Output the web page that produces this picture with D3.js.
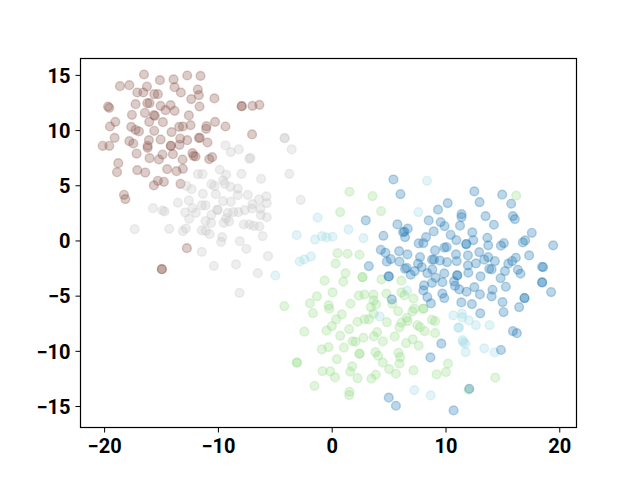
<!DOCTYPE html>
<html><head><meta charset="utf-8">
<script src="https://cdn.jsdelivr.net/npm/d3@7"></script>
<style>html,body{margin:0;padding:0;background:#fff}svg{display:block}</style>
</head><body><div id="chart"></div>
<script>
const xTicks=[-20,-10,0,10,20];
const yTicks=[-15,-10,-5,0,5,10,15];
const brown=[[-16.54,15.08],[-18.65,14.02],[-17.83,14.11],[-15.14,14.57],[-13.94,14.63],[-12.74,14.99],[-11.57,14.96],[-16.28,13.99],[-13.85,13.93],[-17.13,13.45],[-16.6,13.45],[-15.64,13.3],[-15.32,13.3],[-13.3,13.45],[-11.81,13.72],[-11.72,13.21],[-12.39,12.85],[-10.35,12.91],[-17.28,12.39],[-16.25,12.48],[-16.05,12.48],[-15.08,12.24],[-14.2,12.3],[-14.64,11.85],[-13.85,11.79],[-11.66,12.18],[-19.7,12.18],[-19.59,12.06],[-7.95,12.21],[-7.95,12.21],[-7.01,12.24],[-6.4,12.33],[-17.6,11.43],[-16.46,11.61],[-15.67,11.4],[-15.58,11.34],[-12.6,11.37],[-16.08,10.79],[-14.88,10.76],[-19.06,10.79],[-19.53,10.37],[-17.66,10.34],[-17.28,10.07],[-16.98,9.92],[-15.64,9.98],[-14.12,9.86],[-13.45,10.34],[-13.12,10.37],[-12.45,10.49],[-11.05,10.4],[-11.08,10.16],[-10.29,10.79],[-9.38,10.37],[-7.04,9.65],[-19.12,9.34],[-20.17,8.62],[-19.59,8.62],[-17.83,9.04],[-17.48,8.83],[-16.11,9.13],[-16.22,8.62],[-16.22,8.44],[-15.08,9.19],[-14.18,8.62],[-14.18,8.62],[-13.36,9.28],[-13.42,8.71],[-12.74,9.13],[-11.72,9.34],[-11.63,9.34],[-10.96,8.92],[-17.19,7.92],[-16.05,7.5],[-14.91,7.83],[-15.23,7.38],[-14.0,7.86],[-12.28,7.96],[-12.19,7.71],[-12.01,7.65],[-13.15,7.38],[-10.55,7.59],[-10.81,7.41],[-18.8,7.05],[-18.91,6.23],[-17.13,6.42],[-16.43,6.2],[-14.5,6.5],[-13.68,6.32],[-13.12,6.54],[-15.32,5.45],[-14.79,5.36],[-15.67,5.03],[-13.33,5.18],[-18.3,4.18],[-18.18,3.79],[-12.77,-0.65],[-14.97,-2.56],[-14.97,-2.56]];
const gray=[[-4.18,9.31],[-4.18,9.31],[-3.56,8.29],[-9.38,8.65],[-8.91,8.05],[-8.21,8.29],[-7.28,7.44],[-7.19,7.53],[-9.88,6.45],[-9.32,6.0],[-7.98,6.08],[-6.25,5.63],[-3.77,6.08],[-11.81,6.05],[-11.4,6.05],[-12.8,4.99],[-12.36,4.69],[-10.61,5.15],[-10.35,4.99],[-9.59,5.48],[-9.44,5.18],[-8.94,4.9],[-8.3,4.75],[-8.3,4.15],[-11.37,4.27],[-10.23,4.24],[-7.42,4.18],[-5.78,4.03],[-6.43,3.76],[-5.75,3.43],[-7.01,3.34],[-9.59,3.61],[-8.91,3.55],[-12.6,3.67],[-13.56,3.46],[-2.77,3.73],[-15.75,2.97],[-14.91,2.76],[-14.73,2.67],[-12.28,2.97],[-11.46,3.22],[-11.13,3.22],[-12.92,2.58],[-11.98,2.55],[-10.08,2.82],[-10.08,2.82],[-9.18,2.55],[-8.71,2.61],[-8.24,2.61],[-7.68,2.79],[-7.04,2.94],[-6.31,2.91],[-6.28,2.37],[-5.75,2.15],[-10.61,2.37],[-12.57,2.01],[-11.13,1.8],[-10.64,1.64],[-9.32,2.04],[-9.06,1.77],[-9.53,1.64],[-7.77,1.49],[-7.27,1.49],[-6.9,1.37],[-6.4,1.31],[-17.36,1.07],[-14.32,1.1],[-12.86,1.13],[-13.12,0.89],[-11.46,0.95],[-11.11,0.92],[-10.78,0.62],[-6.11,0.44],[-9.67,0.35],[-9.76,-0.08],[-8.12,-0.02],[-7.54,-0.71],[-11.46,-0.99],[-5.64,-1.38],[-10.4,-2.25],[-8.45,-2.13],[-6.54,-2.92],[-8.15,-4.7]];
const cyan=[[-1.28,2.12],[-3.12,0.52],[-1.51,0.13],[-0.9,0.43],[-0.5,0.32],[0.03,0.38],[-2.86,-1.86],[-2.45,-1.68],[-1.87,-1.41],[-5.0,-3.13],[1.43,1.05],[2.75,0.26],[7.57,2.62],[8.33,5.45],[6.58,-4.5],[4.18,-6.84],[7.22,-13.51],[8.66,-13.99],[10.64,-6.74],[11.4,-6.59],[11.43,-6.93],[12.02,-7.2],[12.63,-7.62],[13.83,-7.62],[11.11,-7.86],[11.11,-7.86],[11.46,-8.98],[11.52,-9.19],[11.7,-9.31],[11.73,-10.07],[13.36,-9.73],[14.27,-10.1]];
const green=[[16.17,4.1],[8.01,-6.14],[8.01,-6.14],[8.77,-7.14],[9.04,-7.26],[8.13,-8.16],[9.04,-8.34],[7.72,-7.8],[10.18,-11.12],[10.0,-11.88],[9.18,-12.09],[14.33,-12.39],[11.99,-13.48],[1.52,4.46],[3.54,4.07],[0.7,2.62],[4.3,2.71],[0.47,-1.1],[1.35,-1.16],[2.4,-1.25],[0.3,-2.06],[1.17,-2.91],[-0.67,-3.6],[0.97,-3.69],[2.66,-3.27],[2.66,-3.27],[4.33,-3.48],[6.08,-3.6],[-1.34,-5.02],[0.03,-4.66],[2.34,-4.96],[2.84,-4.87],[3.63,-4.87],[4.77,-4.78],[6.08,-4.66],[6.35,-4.93],[7.14,-5.23],[-4.21,-5.9],[-1.96,-5.66],[-1.69,-6.53],[-0.32,-5.84],[-0.26,-6.14],[1.61,-5.69],[3.63,-5.39],[3.86,-5.75],[3.39,-5.99],[3.63,-6.59],[5.29,-5.69],[5.79,-6.35],[4.8,-7.35],[0.85,-6.65],[0.35,-7.11],[-0.03,-7.71],[-0.5,-8.13],[-2.45,-8.22],[2.22,-7.32],[2.84,-7.11],[3.22,-7.11],[1.49,-7.98],[0.7,-8.59],[3.95,-8.25],[3.66,-8.65],[2.75,-8.77],[1.79,-9.1],[2.05,-9.13],[4.45,-9.1],[5.5,-8.65],[6.08,-7.41],[5.91,-7.83],[6.55,-6.96],[6.61,-7.26],[7.05,-6.38],[7.22,-6.14],[7.49,-7.62],[6.49,-9.25],[7.08,-8.92],[7.6,-9.49],[-0.91,-9.82],[-0.32,-9.61],[1.03,-9.67],[2.4,-10.22],[2.4,-10.22],[3.8,-10.07],[4.04,-10.4],[5.82,-10.13],[5.97,-10.52],[0.41,-10.7],[4.45,-11.03],[5.91,-11.12],[-3.1,-11.03],[-3.1,-11.03],[1.76,-11.36],[-0.85,-11.79],[-0.17,-11.82],[1.58,-11.85],[5.0,-11.61],[5.6,-12.03],[7.14,-11.73],[0.24,-12.36],[2.22,-12.42],[3.83,-12.12],[3.45,-12.48],[-1.55,-13.12],[1.52,-13.66],[1.49,-13.96]];
const blue=[[12.49,4.49],[14.94,4.19],[12.95,3.52],[15.73,3.37],[10.15,3.43],[9.3,2.83],[11.37,2.43],[11.37,2.16],[13.48,2.25],[15.88,2.25],[16.05,1.98],[14.21,1.47],[8.48,1.86],[9.53,1.71],[9.88,1.35],[11.23,1.38],[8.92,0.86],[10.41,0.56],[12.31,0.77],[17.54,0.74],[8.25,0.35],[13.63,0.29],[10.91,0.08],[12.4,0.08],[16.96,0.05],[16.76,-0.13],[15.09,-0.19],[14.83,-0.43],[11.78,-0.28],[11.78,-0.28],[13.71,-0.4],[19.42,-0.4],[8.01,-0.19],[7.6,-0.22],[9.85,-0.61],[10.06,-0.55],[9.04,-0.86],[12.92,-1.01],[10.88,-1.22],[11.93,-1.31],[17.31,-1.31],[13.71,-1.46],[13.36,-1.7],[16.14,-1.52],[15.82,-1.82],[15.47,-2.06],[14.3,-1.82],[12.63,-2.03],[8.77,-1.7],[8.95,-1.7],[9.47,-1.79],[10.09,-1.91],[10.94,-1.82],[11.93,-2.22],[7.72,-1.46],[7.87,-2.37],[8.8,-2.58],[13.8,-2.52],[14.01,-2.58],[15.18,-2.73],[16.32,-2.61],[16.55,-2.97],[18.45,-2.34],[18.54,-2.37],[11.96,-2.88],[8.36,-2.91],[9.85,-2.94],[10.99,-3.12],[10.99,-3.12],[13.04,-3.21],[14.8,-3.36],[9.09,-3.33],[8.77,-3.79],[10.7,-3.66],[9.68,-3.73],[18.45,-3.76],[18.45,-3.76],[15.26,-4.15],[10.79,-4.06],[8.07,-4.03],[8.01,-4.48],[12.49,-4.18],[11.17,-4.39],[11.81,-4.6],[14.09,-4.42],[9.68,-4.78],[12.98,-4.84],[19.24,-4.63],[14.01,-5.02],[9.85,-5.17],[8.36,-5.08],[16.9,-5.17],[16.9,-5.17],[8.68,-5.66],[11.35,-5.57],[12.28,-5.72],[13.01,-6.56],[14.97,-5.54],[15.06,-6.44],[16.43,-5.99],[15.88,-8.16],[16.23,-8.35],[14.83,-9.88],[9.59,-9.31],[8.63,-10.55],[12.05,-13.39],[10.67,-15.35],[5.38,5.57],[6.0,4.25],[2.95,1.86],[5.73,1.5],[6.64,1.11],[6.23,0.8],[6.35,0.85],[6.4,0.35],[4.5,0.47],[4.27,-0.8],[4.68,-1.07],[5.88,-0.92],[6.61,-1.22],[5.15,-1.64],[4.8,-1.88],[5.91,-1.88],[7.55,-2.06],[6.55,-2.43],[6.4,-2.52],[7.25,-2.73],[6.9,-3.06],[3.22,-2.28],[4.97,-3.21],[4.97,-3.21],[5.24,-5.3],[4.97,-14.2],[5.6,-14.93]];
const seriesNames=["brown","gray","cyan","green","blue"];
const seriesColors=["#8c564b","#c7c7c7","#9edae5","#98df8a","#1f77b4"];
const seriesData=[brown,gray,cyan,green,blue];

const W=640,H=480,L=80.5,R=576.5,T=58.5,B=427.5;
const x=d3.scaleLinear().domain([-22.12,21.47]).range([L,R]);
const y=d3.scaleLinear().domain([-16.9,16.53]).range([B,T]);
const svg=d3.select("#chart").append("svg").attr("width",W).attr("height",H);

seriesData.forEach((pts,i)=>{
  svg.append("g").attr("class",seriesNames[i]).selectAll("circle").data(pts).join("circle")
    .attr("cx",d=>x(d[0])).attr("cy",d=>y(d[1])).attr("r",4.4)
    .attr("fill",seriesColors[i]).attr("stroke",seriesColors[i])
    .attr("fill-opacity",0.3).attr("stroke-opacity",0.3).attr("stroke-width",1.4);
});

const fmt=d=>d<0?"\u2212"+(-d):""+d;
const gx=svg.append("g").attr("transform",`translate(0,${B})`).call(d3.axisBottom(x).offset(0).tickValues(xTicks).tickFormat(fmt).tickSize(5).tickPadding(6));
const gy=svg.append("g").attr("transform",`translate(${L},0)`).call(d3.axisLeft(y).offset(0).tickValues(yTicks).tickFormat(fmt).tickSize(5).tickPadding(5));
[gx,gy].forEach(g=>{
  g.selectAll(".domain").remove();
  g.selectAll("line").attr("stroke","#000").attr("stroke-width",1);
  g.selectAll("text").attr("fill","#000").style("font-family","Roboto").style("font-weight","700").style("font-size","20px");
});
gy.selectAll("text").attr("dy","0.36em");
svg.append("rect").attr("x",L).attr("y",T).attr("width",R-L).attr("height",B-T).attr("fill","none").attr("stroke","#000").attr("stroke-width",1.2);
</script></body></html>
